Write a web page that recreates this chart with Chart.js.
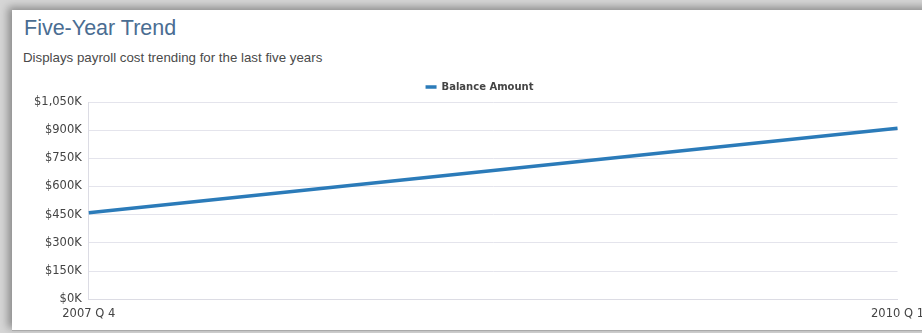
<!DOCTYPE html>
<html>
<head>
<meta charset="utf-8">
<script src="https://cdn.jsdelivr.net/npm/chart.js@4"></script>
<style>
  html, body { margin: 0; padding: 0; background: #fff; overflow: hidden; }
  body { width: 922px; height: 333px; position: relative; background: #d6d6d6; }
  .panel {
    position: absolute; left: 12px; top: 10px; width: 960px; height: 320px;
    background: #fff; box-shadow: -4px -3px 8px rgba(0,0,0,0.35);
    border-bottom: 1px solid #aaa;
  }
  .title {
    position: absolute; left: 12px; top: 6px;
    font-family: "Liberation Sans", Arial, sans-serif; font-size: 21.5px; color: #4a6d92;
  }
  .subtitle {
    position: absolute; left: 11px; top: 40px;
    font-family: "Liberation Sans", Arial, sans-serif; font-size: 13.3px; color: #4a4a4a;
  }
  .wrap { position: absolute; left: 0; top: 62px; width: 920px; height: 258px; }
</style>
</head>
<body>
<div class="panel">
  <div class="title">Five-Year Trend</div>
  <div class="subtitle">Displays payroll cost trending for the last five years</div>
  <div class="wrap"><canvas id="chart"></canvas></div>
</div>
<script>
const categories = ['2007 Q 4', '2010 Q 1'];
const balanceAmount = [460000, 910000];
const seriesName = 'Balance Amount';

const ctx = document.getElementById('chart').getContext('2d');
new Chart(ctx, {
  type: 'line',
  data: {
    labels: categories,
    datasets: [{
      label: seriesName,
      data: balanceAmount,
      borderColor: '#2b7bb9',
      backgroundColor: '#2b7bb9',
      borderWidth: 3.5,
      pointRadius: 0,
      tension: 0
    }]
  },
  options: {
    responsive: true,
    maintainAspectRatio: false,
    animation: false,
    layout: { padding: { left: 15, right: 0, top: 0, bottom: 1 } },
    plugins: {
      legend: {
        position: 'top',
        labels: {
          usePointStyle: true,
          pointStyle: 'line',
          pointStyleWidth: 11,
          color: '#444',
          font: { family: 'DejaVu Sans', size: 10, weight: 'bold' },
          padding: 10
        }
      },
      tooltip: { enabled: false }
    },
    scales: {
      x: {
        offset: false,
        grid: { display: false, drawTicks: false },
        border: { color: '#dcdce4' },
        ticks: {
          color: '#444',
          font: { family: 'DejaVu Sans', size: 11.5 },
          maxRotation: 0,
          padding: 8
        }
      },
      y: {
        min: 0,
        max: 1050000,
        grid: { color: '#e4e4ec', drawTicks: false },
        border: { color: '#dcdce4' },
        ticks: {
          stepSize: 150000,
          color: '#444',
          font: { family: 'DejaVu Sans', size: 11.5 },
          padding: 7,
          callback: v => '$' + (v / 1000).toLocaleString('en-US') + 'K'
        }
      }
    }
  }
});
</script>
</body>
</html>
